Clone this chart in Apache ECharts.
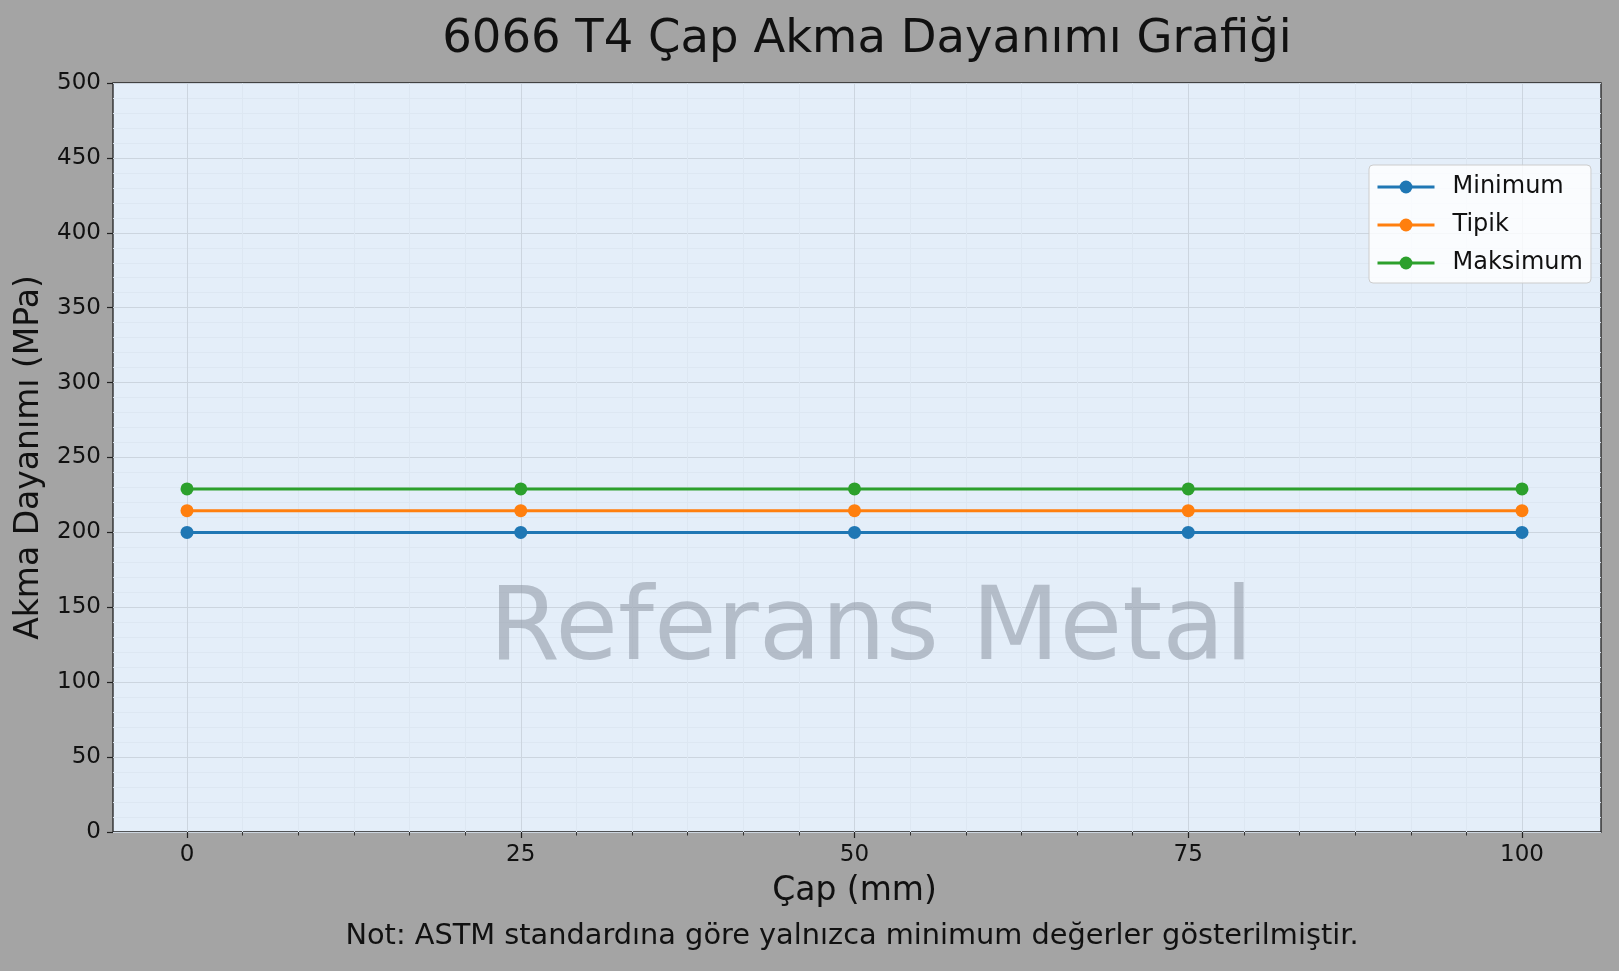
<!DOCTYPE html>
<html>
<head>
<meta charset="utf-8">
<script src="https://cdn.jsdelivr.net/npm/echarts@6/dist/echarts.min.js"></script>
<style>
  html, body { margin: 0; padding: 0; background: #a4a4a4; }
  #chart { width: 1619px; height: 971px; }
</style>
</head>
<body>
<div id="chart"></div>
<script>
// data
var diameters = [0, 25, 50, 75, 100];
var minValues = [200, 200, 200, 200, 200];
var typValues = [214.5, 214.5, 214.5, 214.5, 214.5];
var maxValues = [229, 229, 229, 229, 229];
var seriesNames = ['Minimum', 'Tipik', 'Maksimum'];
var seriesColors = ['#1f77b4', '#ff7f0e', '#2ca02c'];

var font = 'DejaVu Sans';

function pairs(xs, ys) {
    var out = [];
    for (var i = 0; i < xs.length; i++) {
        out.push([xs[i], ys[i]]);
    }
    return out;
}

function makeSeries(name, values, color) {
    return {
        name: name,
        type: 'line',
        xAxisIndex: 1,
        yAxisIndex: 1,
        data: pairs(diameters, values),
        symbol: 'circle',
        symbolSize: 13,
        color: color,
        lineStyle: { width: 3, color: color },
        itemStyle: { color: color },
        emphasis: { disabled: true },
        z: 5
    };
}

var myChart = echarts.init(document.getElementById('chart'));

myChart.setOption({
    backgroundColor: '#a4a4a4',
    animation: false,
    textStyle: { fontFamily: font },
    title: [
        {
            text: '6066 T4 Çap Akma Dayanımı Grafiği',
            left: 862,
            top: 11,
            textAlign: 'center',
            textStyle: { fontFamily: font, fontSize: 46.5, fontWeight: 'normal', color: '#111' }
        },
        {
            text: 'Not: ASTM standardına göre yalnızca minimum değerler gösterilmiştir.',
            left: 847,
            top: 917,
            textAlign: 'center',
            textStyle: { fontFamily: font, fontSize: 28.8, fontWeight: 'normal', color: '#111' }
        }
    ],
    legend: {
        orient: 'vertical',
        left: 1369,
        top: 165,
        data: seriesNames,
        itemWidth: 57,
        itemHeight: 16,
        itemGap: 14,
        padding: [10, 8, 8, 7],
        backgroundColor: 'rgba(255,255,255,0.8)',
        borderColor: '#cccccc',
        borderWidth: 1,
        borderRadius: 4,
        lineStyle: { width: 3 },
        textStyle: { fontFamily: font, fontSize: 24, color: '#111', padding: [0, 0, 0, 13] }
    },
    graphic: [
        {
            type: 'text',
            x: 871,
            y: 632,
            z: 1,
            style: {
                text: 'Referans Metal',
                font: '102px "DejaVu Sans"',
                fill: 'rgba(140,150,162,0.55)',
                textAlign: 'center',
                textVerticalAlign: 'middle'
            }
        }
    ],
    grid: [
        {
            left: 113, right: 18, top: 83, bottom: 139,
            show: true,
            backgroundColor: '#e4eef9',
            borderColor: '#222',
            borderWidth: 1.3,
            z: 0
        },
        {
            left: 187, width: 1335, top: 83, bottom: 139,
            show: false
        }
    ],
    xAxis: [
        {
            gridIndex: 0,
            type: 'value',
            min: 0, max: 100,
            show: false
        },
        {
            gridIndex: 1,
            type: 'value',
            min: 0, max: 100, interval: 25,
            name: 'Çap (mm)',
            nameLocation: 'middle',
            nameGap: 43,
            nameTextStyle: { fontFamily: font, fontSize: 33, color: '#111' },
            axisLine: { show: false },
            axisTick: { show: true, inside: false, length: 6, lineStyle: { color: '#222', width: 1.2 } },
            minorTick: { show: true, splitNumber: 6, length: 3.5, lineStyle: { color: '#333', width: 1 } },
            axisLabel: { fontFamily: font, fontSize: 23, color: '#111', margin: 12 },
            splitLine: { show: true, lineStyle: { color: '#ccd5df', width: 1 } },
            minorSplitLine: { show: true, lineStyle: { color: '#dde7f2', width: 1 } }
        }
    ],
    yAxis: [
        {
            gridIndex: 0,
            type: 'value',
            min: 0, max: 500, interval: 50,
            name: 'Akma Dayanımı (MPa)',
            nameLocation: 'middle',
            nameGap: 66,
            nameTextStyle: { fontFamily: font, fontSize: 33, color: '#111' },
            axisLine: { show: false },
            axisTick: { show: true, inside: false, length: 6, lineStyle: { color: '#222', width: 1.2 } },
            axisLabel: { fontFamily: font, fontSize: 23, color: '#111', margin: 12 },
            splitLine: { show: true, lineStyle: { color: '#ccd5df', width: 1 } },
            minorTick: { show: false, splitNumber: 5 },
            minorSplitLine: { show: true, lineStyle: { color: '#dde7f2', width: 1 } }
        },
        {
            gridIndex: 1,
            type: 'value',
            min: 0, max: 500,
            show: false
        }
    ],
    series: [
        makeSeries(seriesNames[0], minValues, seriesColors[0]),
        makeSeries(seriesNames[1], typValues, seriesColors[1]),
        makeSeries(seriesNames[2], maxValues, seriesColors[2])
    ]
});
</script>
</body>
</html>
